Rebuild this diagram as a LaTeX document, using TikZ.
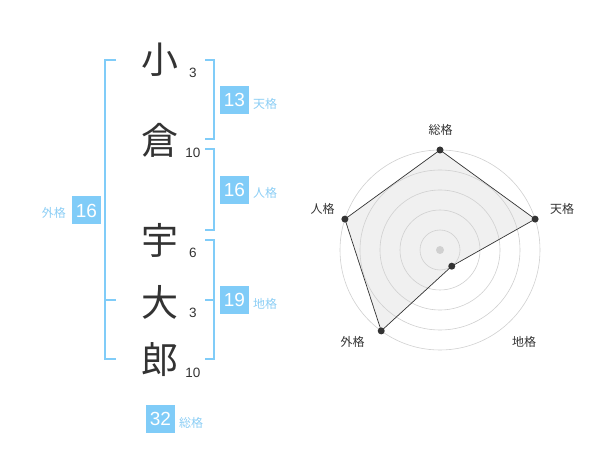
\documentclass[tikz,border=0pt]{standalone}
\usepackage{fontspec}
\usetikzlibrary{calc}
\setmainfont{Liberation Sans}
\newfontfamily\cjk{Noto Sans CJK JP}
\definecolor{skyb}{RGB}{128,204,248}
\definecolor{skyt}{RGB}{140,206,245}
\definecolor{ink}{RGB}{51,51,51}
\definecolor{ringc}{RGB}{208,208,208}
\definecolor{areac}{RGB}{240,240,240}
\begin{document}
\begin{tikzpicture}[x=1pt,y=-1pt,
  kanji/.style={font=\cjk\fontsize{37}{37}\selectfont, text=ink, inner sep=0},
  stroke/.style={font=\fontsize{13.5}{13.5}\selectfont, text=ink, inner sep=0},
  valbox/.style={fill=skyb, text=white, minimum width=29pt, minimum height=28pt, inner sep=0, font=\fontsize{19}{19}\selectfont},
  kaku/.style={font=\cjk\fontsize{12}{12}\selectfont, text=skyt, inner sep=0},
  bracket/.style={draw=skyb, line width=2pt},
  ring/.style={draw=ringc, line width=0.6pt},
  axlabel/.style={font=\cjk\fontsize{12}{12}\selectfont, text=ink, inner sep=0},
  dot/.style={circle, fill=ink, inner sep=0, minimum size=7pt}]
\useasboundingbox (0,0) rectangle (600,470);
% names
\node[kanji] (c1) at (160,60) {小};
\node[kanji] (c2) at (160,140) {倉};
\node[kanji] (c3) at (160,240) {宇};
\node[kanji] (c4) at (160,302) {大};
\node[kanji] (c5) at (160,360) {郎};
\node[stroke] (s1) at (193,73) {3};
\node[stroke] (s2) at (193,153) {10};
\node[stroke] (s3) at (193,253) {6};
\node[stroke] (s4) at (193,313) {3};
\node[stroke] (s5) at (193,373) {10};
% brackets
\coordinate (L1) at (116,60); \coordinate (L1b) at (105,60);
\coordinate (L2) at (105,359); \coordinate (L2b) at (116,359);
\coordinate (Lm) at (105,300); \coordinate (Lmb) at (116,300);
\draw[bracket] (L1) -- (L1b) -- (L2) -- (L2b);
\draw[bracket] (Lm) -- (Lmb);
\coordinate (A1) at (205,60); \coordinate (A2) at (214,60);
\coordinate (A3) at (214,139); \coordinate (A4) at (205,139);
\draw[bracket] (A1) -- (A2) -- (A3) -- (A4);
\coordinate (B1) at (205,149); \coordinate (B2) at (214,149);
\coordinate (B3) at (214,230); \coordinate (B4) at (205,230);
\draw[bracket] (B1) -- (B2) -- (B3) -- (B4);
\coordinate (C1) at (205,240); \coordinate (C2) at (214,240);
\coordinate (C3) at (214,359); \coordinate (C4) at (205,359);
\coordinate (Cm) at (205,300); \coordinate (Cmb) at (214,300);
\draw[bracket] (C1) -- (C2) -- (C3) -- (C4);
\draw[bracket] (Cm) -- (Cmb);
% value boxes
\node[valbox] (ten) at (234.5,100) {13};
\node[kaku, anchor=west] (tenl) at (253,104) {天格};
\node[valbox] (jin) at (234.5,190) {16};
\node[kaku, anchor=west] (jinl) at (253,193) {人格};
\node[valbox] (chi) at (234.5,300) {19};
\node[kaku, anchor=west] (chil) at (253,304) {地格};
\node[valbox] (gai) at (86.5,210.5) {16};
\node[kaku, anchor=east] (gail) at (66,213) {外格};
\node[valbox] (sou) at (160.5,419) {32};
\node[kaku, anchor=west] (soul) at (179,423) {総格};
% radar (y axis points down, so angles are negated)
\coordinate (O) at (440,250);
\coordinate (P1) at ($(O)+(-90:100)$);
\coordinate (P2) at ($(O)+(-18:100)$);
\coordinate (P3) at ($(O)+(54:20)$);
\coordinate (P4) at ($(O)+(126:100)$);
\coordinate (P5) at ($(O)+(-162:100)$);
\fill[areac] (P1) -- (P2) -- (P3) -- (P4) -- (P5) -- cycle;
\foreach \r in {20,40,60,80,100} \draw[ring] (O) circle[radius=\r];
\fill[ringc] (O) circle[radius=4];
\draw[ink, line width=0.7pt] (P1) -- (P2) -- (P3) -- (P4) -- (P5) -- cycle;
\foreach \i in {1,...,5} \node[dot] (d\i) at (P\i) {};
\node[axlabel] (a1) at (440.7,130) {総格};
\node[axlabel] (a2) at (562,209) {天格};
\node[axlabel] (a3) at (524,342) {地格};
\node[axlabel] (a4) at (352.7,342) {外格};
\node[axlabel] (a5) at (322.7,209) {人格};
\end{tikzpicture}
\end{document}
